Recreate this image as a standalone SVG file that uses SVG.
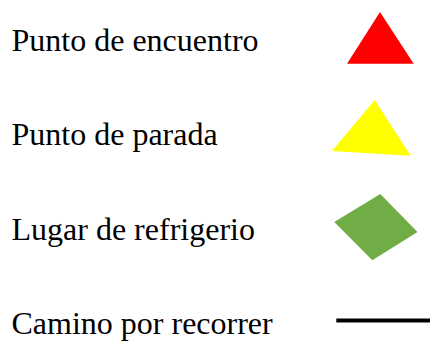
<svg xmlns="http://www.w3.org/2000/svg" width="430" height="341" viewBox="0 0 430 341">
<style>text{font-family:"Liberation Serif","Times New Roman",serif;font-size:32px;fill:#000}</style>
<rect width="430" height="341" fill="#fff"/>
<g id="encuentro"><text x="11.5" y="50.5">Punto de encuentro</text><polygon points="380,12 413.7,63.7 347,63.7" fill="#ff0000"/></g>
<g id="parada"><text x="11.5" y="145">Punto de parada</text><polygon points="374.7,100 410.7,155.8 332,151" fill="#ffff00"/></g>
<g id="refrigerio"><text x="11.5" y="240">Lugar de refrigerio</text><polygon points="380.3,194 417.5,232 372.3,260.3 334.3,222" fill="#70ad47"/></g>
<g id="camino"><text x="11.5" y="334">Camino por recorrer</text><line x1="336.3" y1="320.5" x2="430" y2="320.5" stroke="#000" stroke-width="4.2"/></g>
</svg>
